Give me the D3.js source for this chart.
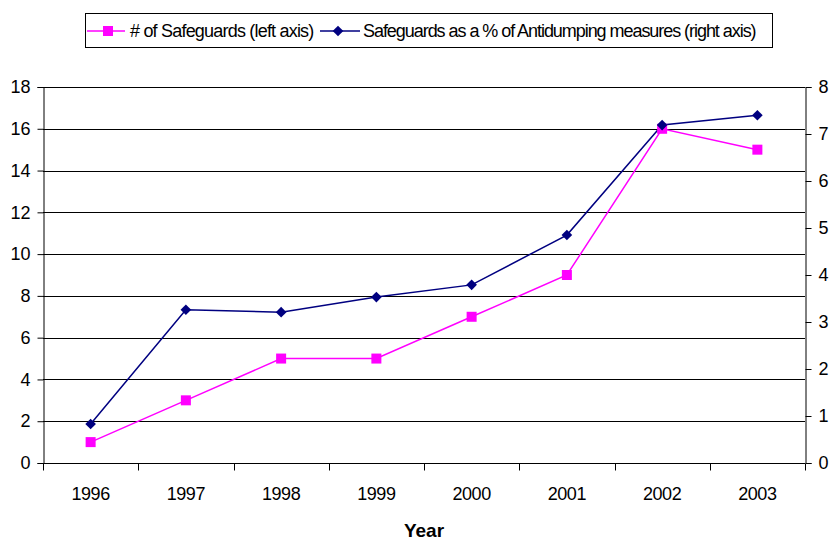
<!DOCTYPE html>
<html>
<head>
<meta charset="utf-8">
<script src="https://cdn.jsdelivr.net/npm/d3@7"></script>
<style>
  body { margin: 0; background: #fff; }
  svg { font-family: "Liberation Sans", Arial, sans-serif; }
</style>
</head>
<body>
<svg id="chart" width="836" height="543"></svg>
<script>
const years = ["1996", "1997", "1998", "1999", "2000", "2001", "2002", "2003"];
const safeguards = [1, 3, 5, 5, 7, 9, 16, 15];
const pctOfAntidumping = [0.83, 3.26, 3.21, 3.53, 3.79, 4.85, 7.19, 7.4];
const leftTicks = [0, 2, 4, 6, 8, 10, 12, 14, 16, 18];
const rightTicks = [0, 1, 2, 3, 4, 5, 6, 7, 8];

const svg = d3.select("#chart");
const margin = { top: 87, right: 31, bottom: 80, left: 43 };
const width = 836, height = 543;

const x = d3.scaleBand().domain(years).range([margin.left, width - margin.right]);
const yL = d3.scaleLinear().domain([0, 18]).range([height - margin.bottom, margin.top]);
const yR = d3.scaleLinear().domain([0, 8]).range([height - margin.bottom, margin.top]);

// gridlines
svg.append("g")
  .selectAll("line")
  .data(leftTicks)
  .join("line")
  .attr("x1", margin.left).attr("x2", width - margin.right)
  .attr("y1", d => Math.round(yL(d)) + 0.5).attr("y2", d => Math.round(yL(d)) + 0.5)
  .attr("stroke", "#000").attr("stroke-width", 1);

// left axis
const gL = svg.append("g")
  .attr("transform", `translate(${margin.left + 0.5},0)`)
  .call(d3.axisLeft(yL).tickValues(leftTicks).tickSize(6).tickPadding(7));
gL.selectAll("text").attr("font-size", 18).attr("fill", "#000").style("font-family", "Liberation Sans, Arial, sans-serif");
gL.selectAll("line, path").attr("stroke", "#000");

// right axis
const gR = svg.append("g")
  .attr("transform", `translate(${width - margin.right + 0.5},0)`)
  .call(d3.axisRight(yR).tickValues(rightTicks).tickSize(6).tickPadding(7));
gR.selectAll("text").attr("font-size", 18).attr("fill", "#000").style("font-family", "Liberation Sans, Arial, sans-serif");
gR.selectAll("line, path").attr("stroke", "#000");

// x axis
const bottomY = Math.round(yL(0)) + 0.5;
svg.append("line")
  .attr("x1", margin.left).attr("x2", width - margin.right)
  .attr("y1", bottomY).attr("y2", bottomY).attr("stroke", "#000");
svg.append("g")
  .selectAll("line")
  .data(years.concat(["end"]))
  .join("line")
  .attr("x1", (d, i) => Math.round(margin.left + i * x.step()) + 0.5)
  .attr("x2", (d, i) => Math.round(margin.left + i * x.step()) + 0.5)
  .attr("y1", bottomY).attr("y2", bottomY + 7)
  .attr("stroke", "#000");
svg.append("g")
  .selectAll("text")
  .data(years)
  .join("text")
  .attr("x", d => x(d) + x.bandwidth() / 2)
  .attr("y", 500)
  .attr("text-anchor", "middle")
  .attr("font-size", 18)
  .attr("letter-spacing", -0.4)
  .text(d => d);

svg.append("text")
  .attr("x", (margin.left + width - margin.right) / 2)
  .attr("y", 537)
  .attr("text-anchor", "middle")
  .attr("font-size", 19)
  .attr("font-weight", "bold")
  .text("Year");

// lines
const cx = d => x(d) + x.bandwidth() / 2;
const lineL = d3.line().x((d, i) => cx(years[i])).y(d => yL(d));
const lineR = d3.line().x((d, i) => cx(years[i])).y(d => yR(d));

svg.append("path").datum(safeguards)
  .attr("d", lineL).attr("fill", "none").attr("stroke", "#FF00FF").attr("stroke-width", 1.5);
svg.append("path").datum(pctOfAntidumping)
  .attr("d", lineR).attr("fill", "none").attr("stroke", "#000080").attr("stroke-width", 1.5);

svg.append("g").selectAll("rect")
  .data(safeguards)
  .join("rect")
  .attr("x", (d, i) => cx(years[i]) - 5)
  .attr("y", d => yL(d) - 5)
  .attr("width", 10).attr("height", 10)
  .attr("fill", "#FF00FF");

const diamond = d3.symbol().type(d3.symbolDiamond2).size(72);
svg.append("g").selectAll("path")
  .data(pctOfAntidumping)
  .join("path")
  .attr("transform", (d, i) => `translate(${cx(years[i])},${yR(d)})`)
  .attr("d", diamond)
  .attr("fill", "#000080");

// legend
const legend = svg.append("g");
legend.append("rect")
  .attr("x", 85.5).attr("y", 13.5).attr("width", 687).attr("height", 34)
  .attr("fill", "#fff").attr("stroke", "#000");
const legItems = [
  { label: "# of Safeguards (left axis)", color: "#FF00FF", shape: "square", x0: 87, x1: 125, mx: 108, tx: 130, ls: -0.8 },
  { label: "Safeguards as a % of Antidumping measures (right axis)", color: "#000080", shape: "diamond", x0: 320, x1: 360, mx: 338, tx: 363, ls: -1.05 }
];
legItems.forEach(it => {
  legend.append("line")
    .attr("x1", it.x0).attr("x2", it.x1)
    .attr("y1", 31).attr("y2", 31)
    .attr("stroke", it.color).attr("stroke-width", 1.5);
  if (it.shape === "square") {
    legend.append("rect").attr("x", it.mx - 5).attr("y", 26).attr("width", 10).attr("height", 10).attr("fill", it.color);
  } else {
    legend.append("path").attr("transform", `translate(${it.mx},31)`).attr("d", diamond).attr("fill", it.color);
  }
  legend.append("text")
    .attr("x", it.tx).attr("y", 37)
    .attr("font-size", 18)
    .attr("letter-spacing", it.ls)
    .text(it.label);
});
</script>
</body>
</html>
